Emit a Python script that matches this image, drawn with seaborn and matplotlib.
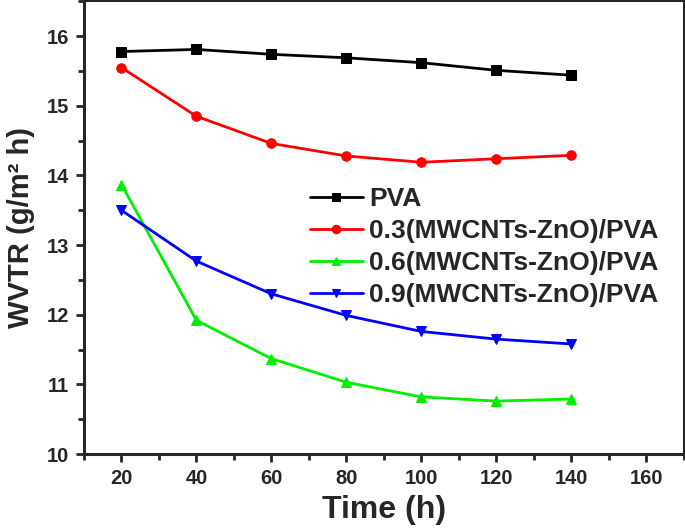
import numpy as np
import pandas as pd
import matplotlib
matplotlib.use('Agg')
import matplotlib.pyplot as plt
import seaborn as sns
from matplotlib.ticker import MultipleLocator

# ---------- data ----------
time_h = [20, 40, 60, 80, 100, 120, 140]
wvtr_pva = [15.78, 15.81, 15.74, 15.69, 15.62, 15.51, 15.44]
wvtr_03 = [15.55, 14.85, 14.46, 14.28, 14.19, 14.24, 14.29]
wvtr_06 = [13.87, 11.92, 11.37, 11.03, 10.82, 10.76, 10.79]
wvtr_09 = [13.50, 12.77, 12.30, 11.99, 11.76, 11.65, 11.58]
labels = ['PVA', '0.3(MWCNTs-ZnO)/PVA', '0.6(MWCNTs-ZnO)/PVA', '0.9(MWCNTs-ZnO)/PVA']

sns.set_style('ticks')
plt.rcParams['font.family'] = ['Liberation Sans', 'DejaVu Sans']
plt.rcParams['font.weight'] = 'bold'

series = [wvtr_pva, wvtr_03, wvtr_06, wvtr_09]
colors = ['black', '#ff0000', '#00ee00', '#0000ff']
markers = ['s', 'o', '^', 'v']

fig = plt.figure(figsize=(6.85, 5.32), dpi=100)
ax = fig.add_axes([0.1226, 0.1466, 0.8754, 0.8534])

for vals, lab, c, m in zip(series, labels, colors, markers):
    sns.lineplot(x=time_h, y=vals, ax=ax, color=c, marker=m, markersize=6.8,
                 markeredgecolor=c, linewidth=2, label=lab)

ax.set_xlim(10, 170)
ax.set_ylim(10, 16.52)
ax.xaxis.set_major_locator(MultipleLocator(20))
ax.xaxis.set_minor_locator(MultipleLocator(10))
ax.yaxis.set_major_locator(MultipleLocator(1))
ax.yaxis.set_minor_locator(MultipleLocator(0.5))
ax.tick_params(which='major', length=6, width=2, labelsize=14.5, pad=5)
ax.tick_params(which='minor', length=4, width=2)
for s in ax.spines.values():
    s.set_linewidth(2.2)
    s.set_visible(True)

ax.set_xlabel('Time (h)', fontsize=23, fontweight='bold', labelpad=5)
ax.set_ylabel('WVTR (g/m² h)', fontsize=21, fontweight='bold', labelpad=8)

ax.legend(loc='upper left', bbox_to_anchor=(310 / 685, 0.648), bbox_transform=fig.transFigure,
          frameon=False, fontsize=19, handlelength=2.0, handletextpad=0.25,
          labelspacing=0.3, borderpad=0, borderaxespad=0, markerscale=0.9)

fig.savefig('out.png', dpi=100)
